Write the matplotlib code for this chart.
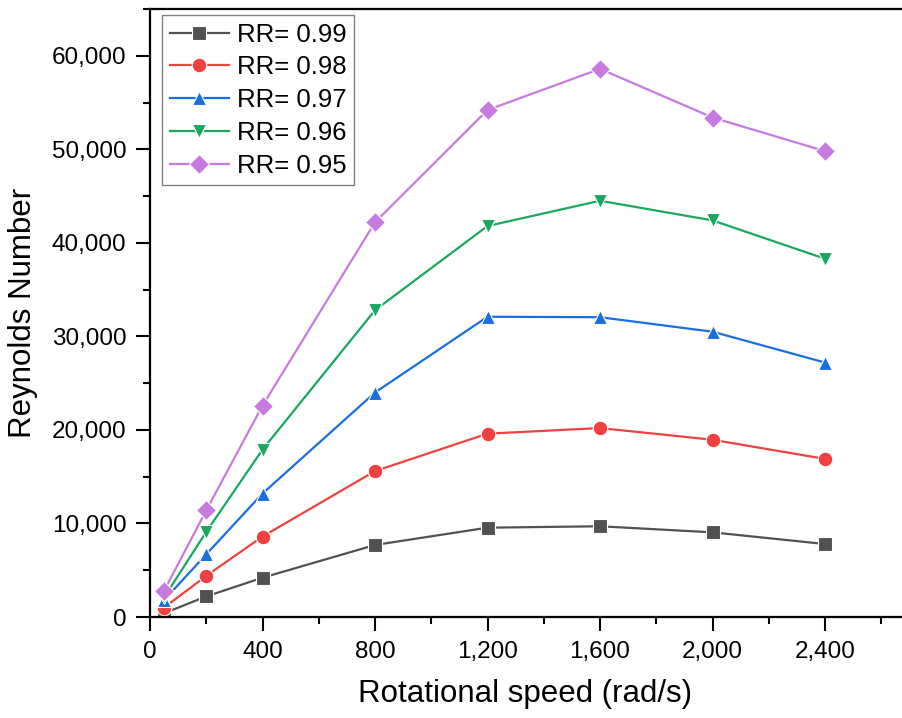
import matplotlib
matplotlib.use("Agg")
import matplotlib.pyplot as plt
from matplotlib.ticker import FuncFormatter, MultipleLocator

plt.rcParams['font.family'] = ['Liberation Sans', 'DejaVu Sans']

speed = [50, 200, 400, 800, 1200, 1600, 2000, 2400]
rr099 = [400, 2200, 4200, 7700, 9550, 9700, 9050, 7800]
rr098 = [1000, 4400, 8600, 15600, 19600, 20200, 18950, 16900]
rr097 = [1800, 6700, 13200, 24000, 32100, 32050, 30500, 27200]
rr096 = [2100, 9100, 17900, 32800, 41800, 44500, 42400, 38300]
rr095 = [2800, 11400, 22600, 42200, 54200, 58600, 53400, 49800]

labels = ['RR= 0.99', 'RR= 0.98', 'RR= 0.97', 'RR= 0.96', 'RR= 0.95']
series = [rr099, rr098, rr097, rr096, rr095]
colors = ['#515151', '#F14040', '#1A6FDF', '#18A860', '#C77AE0']
markers = ['s', 'o', '^', 'v', 'D']
msizes = [9.5, 10.5, 10.5, 10.5, 10]

fig = plt.figure(figsize=(9.02, 7.18), dpi=100)
ax = fig.add_axes([150/902, 1-617/718, (901-150)/902, (617-9)/718])

for y, lab, c, m, ms in zip(series, labels, colors, markers, msizes):
    ax.plot(speed, y, color=c, marker=m, markersize=ms, linewidth=1.6,
            markeredgecolor='white', markeredgewidth=0.8, label=lab)

ax.set_xlim(0, 2670)
ax.set_ylim(0, 65000)
ax.xaxis.set_major_locator(MultipleLocator(400))
ax.xaxis.set_minor_locator(MultipleLocator(200))
ax.yaxis.set_major_locator(MultipleLocator(10000))
ax.yaxis.set_minor_locator(MultipleLocator(5000))
fmt = FuncFormatter(lambda v, p: f"{int(round(v)):,}")
ax.xaxis.set_major_formatter(fmt)
ax.yaxis.set_major_formatter(fmt)

ax.tick_params(axis='both', which='major', direction='out', length=10, width=1.5,
               labelsize=17.5, pad=7)
ax.tick_params(axis='both', which='minor', direction='out', length=5, width=1.5)
for s in ['left', 'bottom', 'top']:
    ax.spines[s].set_linewidth(1.6)
ax.spines['right'].set_visible(False)

ax.set_xlabel('Rotational speed (rad/s)', fontsize=22.5, labelpad=12)
ax.set_ylabel('Reynolds Number', fontsize=22.5, labelpad=10)

leg = ax.legend(loc='upper left', bbox_to_anchor=(12/751, 1-6/608), fontsize=18.5,
                frameon=True, fancybox=False, edgecolor='#808080', framealpha=1,
                handlelength=2.3, handletextpad=0.3, labelspacing=0.34,
                borderpad=0.3, borderaxespad=0)
leg.get_frame().set_linewidth(1.0)

fig.savefig('out.png', dpi=100)
